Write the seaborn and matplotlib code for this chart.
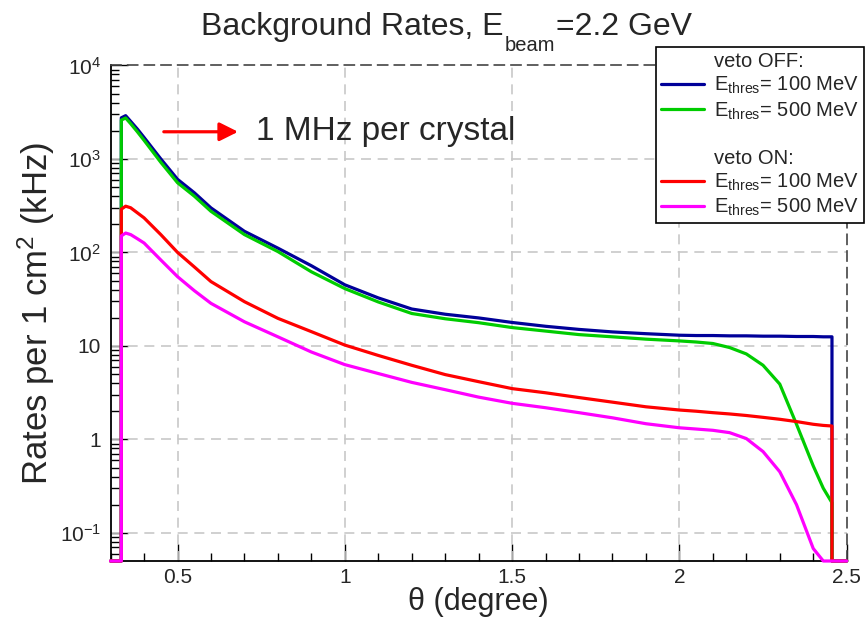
import numpy as np
import pandas as pd
import matplotlib
matplotlib.use("Agg")
import matplotlib.pyplot as plt
import seaborn as sns
from matplotlib.lines import Line2D
from matplotlib.ticker import FixedLocator, MultipleLocator, NullFormatter, LogLocator

# ---------------- data ----------------
theta = [0.332, 0.345, 0.36, 0.38, 0.40, 0.45, 0.50, 0.55, 0.60, 0.70, 0.80,
         0.90, 1.00, 1.10, 1.20, 1.30, 1.40, 1.50, 1.60, 1.70, 1.80, 1.90,
         2.00, 2.05, 2.10, 2.15, 2.20, 2.25, 2.30, 2.35, 2.40, 2.43, 2.456]

veto_off_100 = [2750, 2900, 2520, 2085, 1695, 1000, 605, 435, 299, 168, 111,
                72, 45, 32.6, 24.8, 21.8, 19.9, 17.8, 16.2, 15.0, 14.1, 13.5,
                13.0, 12.9, 12.9, 12.8, 12.8, 12.7, 12.7, 12.6, 12.6, 12.5, 12.5]
veto_off_500 = [2600, 2740, 2380, 1950, 1580, 920, 556, 400, 275, 155, 102,
                62, 41, 29.5, 22.2, 19.5, 17.7, 15.7, 14.4, 13.2, 12.5, 11.8,
                11.3, 11.0, 10.6, 9.6, 8.2, 6.2, 3.9, 1.45, 0.52, 0.30, 0.21]
veto_on_100 = [290, 312, 300, 265, 234, 155, 100, 70, 48.7, 29.7, 19.7,
               14.2, 10.2, 7.9, 6.2, 4.93, 4.14, 3.49, 3.15, 2.8, 2.5, 2.23,
               2.06, 2.0, 1.93, 1.87, 1.8, 1.72, 1.64, 1.55, 1.45, 1.41, 1.39]
veto_on_500 = [150, 161, 155, 140, 126, 83, 55, 39, 28.5, 18.1, 12.5,
               8.6, 6.3, 5.06, 4.07, 3.4, 2.83, 2.43, 2.18, 1.93, 1.7, 1.47,
               1.33, 1.29, 1.25, 1.18, 1.02, 0.74, 0.45, 0.2, 0.068, 0, 0]

series_names = ["off100", "off500", "on100", "on500"]
series_values = [veto_off_100, veto_off_500, veto_on_100, veto_on_500]
series_colors = ["#000099", "#00cc00", "#ff0000", "#ff00ff"]
legend_labels = ["veto OFF:", r"E$_{\mathregular{thres}}$= 100 MeV",
                 r"E$_{\mathregular{thres}}$= 500 MeV", " ", "veto ON:",
                 r"E$_{\mathregular{thres}}$= 100 MeV",
                 r"E$_{\mathregular{thres}}$= 500 MeV"]

x_edges = [0.30, 2.50]       # histogram range (zero bins outside)
YMIN, YMAX = 0.05, 1e4

ytick_vals = [0.1, 1, 10, 100, 1000, 10000]
ytick_labels = [r"$10^{-1}$", "1", "10", r"$10^{2}$", r"$10^{3}$", r"$10^{4}$"]
xtick_vals = [0.5, 1.0, 1.5, 2.0, 2.5]
xtick_labels = ["0.5", "1", "1.5", "2", "2.5"]

# ---------------- style ----------------
sns.set_style("white")
plt.rcParams["font.family"] = ["Liberation Sans", "DejaVu Sans"]
plt.rcParams["mathtext.fontset"] = "custom"
plt.rcParams["mathtext.rm"] = "Liberation Sans"
plt.rcParams["mathtext.it"] = "Liberation Sans:italic"
plt.rcParams["mathtext.bf"] = "Liberation Sans:bold"

W, H = 865, 618
fig = plt.figure(figsize=(W / 100, H / 100), dpi=100)
L, R, T, B = 110.6, 846.7, 65.4, 561.0
ax = fig.add_axes([L / W, 1 - B / H, (R - L) / W, (B - T) / H])

rows = []
for name, vals in zip(series_names, series_values):
    xs = [x_edges[0], theta[0]] + theta + [theta[-1], x_edges[1]]
    ys = [0, 0] + list(vals) + [0, 0]
    for xx, yy in zip(xs, ys):
        rows.append({"theta": xx, "rate": max(yy, YMIN), "series": name})
df = pd.DataFrame(rows)

sns.lineplot(data=df, x="theta", y="rate", hue="series", hue_order=series_names,
             palette=dict(zip(series_names, series_colors)), estimator=None,
             sort=False, units="series", lw=2.3, legend=False, ax=ax,
             clip_on=False, zorder=5)

ax.set_yscale("log")
ax.set_xlim(*x_edges)
ax.set_ylim(YMIN, YMAX)

# grid
grid_kw = dict(color="#c8c8c8", lw=1.2, ls=(0, (6, 4)), zorder=1)
for xv in xtick_vals[:-1]:
    ax.axvline(xv, **grid_kw)
for yv in ytick_vals[:-1]:
    ax.axhline(yv, **grid_kw)

# spines
for s in ["top", "right"]:
    ax.spines[s].set_linestyle((0, (6, 4)))
    ax.spines[s].set_color("#444444")
    ax.spines[s].set_linewidth(1.2)
for s in ["left", "bottom"]:
    ax.spines[s].set_color("black")
    ax.spines[s].set_linewidth(1.3)

ax.xaxis.set_major_locator(FixedLocator(xtick_vals))
ax.set_xticklabels(xtick_labels)
ax.xaxis.set_minor_locator(MultipleLocator(0.1))
ax.yaxis.set_major_locator(FixedLocator(ytick_vals))
ax.set_yticklabels(ytick_labels)
ax.yaxis.set_minor_locator(LogLocator(base=10, subs=np.arange(2, 10)))
ax.yaxis.set_minor_formatter(NullFormatter())
ax.tick_params(which="both", direction="in", top=False, right=False,
               bottom=True, left=True, labelsize=15, color="black", width=1.0)
ax.tick_params(which="major", length=12)
ax.tick_params(axis="x", which="major", pad=5)
ax.tick_params(axis="y", which="major", pad=7)
ax.tick_params(which="minor", length=6)

ax.set_xlabel("θ (degree)", fontsize=22, labelpad=0)
ax.set_ylabel(r"Rates per 1 cm$^{2}$ (kHz)", fontsize=25, labelpad=2)

# title in three pieces (ROOT-like low subscript)
t1 = fig.text(201 / W, 1 - 35 / H, "Background Rates, E", ha="left",
              va="baseline", fontsize=23)
fig.canvas.draw()
r = fig.canvas.get_renderer()
x1 = t1.get_window_extent(r).x1
t2 = fig.text((x1 + 1) / W, 1 - 51 / H, "beam", ha="left", va="baseline",
              fontsize=14.5)
x2 = t2.get_window_extent(r).x1
fig.text((x2 + 1) / W, 1 - 35 / H, "=2.2 GeV", ha="left", va="baseline",
         fontsize=23)

# annotation arrow
ax.annotate("", xy=(0.681, 1950), xytext=(0.459, 1950),
            arrowprops=dict(arrowstyle="-|>", color="red", lw=2.3,
                            mutation_scale=28, shrinkA=0, shrinkB=0), zorder=6)
ax.text(0.736, 1950, "1 MHz per crystal", fontsize=24, va="center", ha="left")

# legend
blank = Line2D([], [], color="none")
handles = [blank,
           Line2D([], [], color=series_colors[0], lw=2.3),
           Line2D([], [], color=series_colors[1], lw=2.3),
           blank, blank,
           Line2D([], [], color=series_colors[2], lw=2.3),
           Line2D([], [], color=series_colors[3], lw=2.3)]
leg = fig.legend(handles, legend_labels, loc="upper right",
                 bbox_to_anchor=(864 / W, 1 - 47 / H), fontsize=14.5,
                 frameon=True, fancybox=False, framealpha=1, edgecolor="black",
                 handlelength=2.1, handletextpad=0.5, labelspacing=0.2,
                 borderpad=0.25, borderaxespad=0)
leg.get_frame().set_linewidth(1.2)
leg.set_zorder(10)

fig.savefig("out.png", dpi=100)
